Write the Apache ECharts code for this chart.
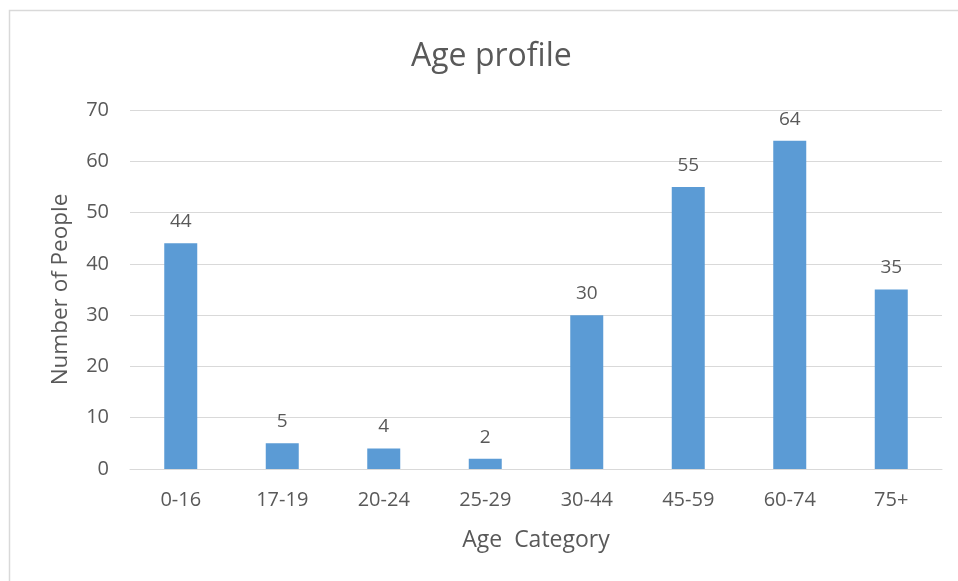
<!DOCTYPE html>
<html><head><meta charset="utf-8">
<script src="https://cdn.jsdelivr.net/npm/echarts@6/dist/echarts.min.js"></script>
<style>html,body{margin:0;padding:0;background:#fff}#c{width:958px;height:581px}</style>
</head><body><div id="c"></div>
<script>
const categories = ['0-16','17-19','20-24','25-29','30-44','45-59','60-74','75+'];
const values = [44, 5, 4, 2, 30, 55, 64, 35];
const yTicks = {min: 0, max: 70, interval: 10};
const titleText = 'Age profile';
const xName = 'Age  Category';
const yName = 'Number of People';

const FONT = '"Open Sans", "Liberation Sans", sans-serif';
const TXT = '#595959';
const chart = echarts.init(document.getElementById('c'), null, {renderer: 'canvas'});
chart.setOption({
  backgroundColor: '#fff',
  animation: false,
  graphic: [{type: 'rect', shape: {x: 9.5, y: 10.5, width: 1000, height: 1000}, style: {fill: 'none', stroke: '#d9d9d9', lineWidth: 1.5}, silent: true}],
  title: {text: titleText, left: 406, top: 36, textStyle: {fontFamily: FONT, fontSize: 32, fontWeight: 'normal', color: TXT}},
  grid: {left: 130, right: 16, top: 110, bottom: 112},
  xAxis: {
    type: 'category', data: categories,
    name: xName, nameLocation: 'middle', nameGap: 60,
    nameTextStyle: {fontFamily: FONT, fontSize: 23, color: TXT},
    axisLine: {show: true, lineStyle: {color: '#d9d9d9', width: 1}},
    axisTick: {show: false},
    axisLabel: {fontFamily: FONT, fontSize: 20, color: TXT, margin: 21}
  },
  yAxis: {
    type: 'value', min: yTicks.min, max: yTicks.max, interval: yTicks.interval,
    name: yName, nameLocation: 'middle', nameGap: 58, nameRotate: 90,
    nameTextStyle: {fontFamily: FONT, fontSize: 22.5, color: TXT},
    axisLine: {show: false}, axisTick: {show: false},
    axisLabel: {fontFamily: FONT, fontSize: 20, color: TXT, margin: 21},
    splitLine: {lineStyle: {color: '#d9d9d9', width: 1}}
  },
  series: [{
    type: 'bar', data: values, barWidth: 33,
    itemStyle: {color: '#5b9bd5'},
    label: {show: true, position: 'top', distance: 12, fontFamily: FONT, fontSize: 19, color: TXT}
  }]
});
</script></body></html>
